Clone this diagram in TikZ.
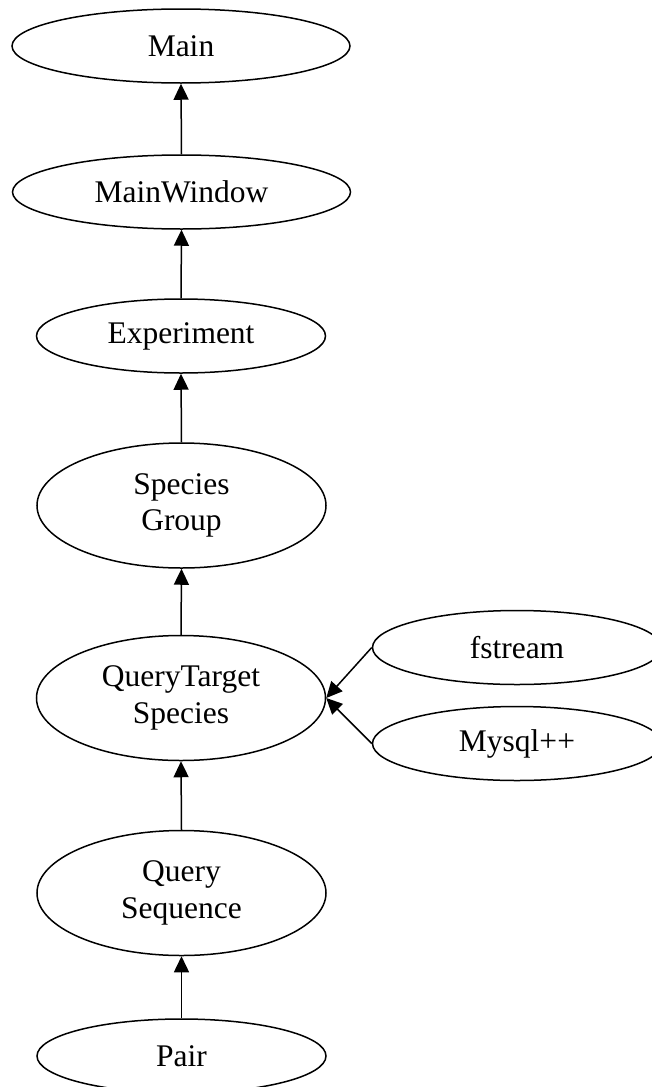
\documentclass[tikz,border=0pt]{standalone}
\usepackage{fontspec}
\setmainfont{Liberation Serif}
\usetikzlibrary{arrows.meta,shapes.geometric}
\begin{document}
\begin{tikzpicture}[x=1pt,y=-1pt,
  cls/.style={draw, ellipse, line width=1.5pt, inner sep=0pt, align=center,
    font=\fontsize{31.5}{36.5}\selectfont},
  wide/.style={cls, minimum width=338pt, minimum height=74pt},
  plain/.style={cls, minimum width=289pt, minimum height=74pt},
  tall/.style={cls, minimum width=289pt, minimum height=125pt},
  dep/.style={line width=1.5pt, -{Triangle[width=15pt,length=16pt]}}]
  \clip (0,0) rectangle (652,1087);
  % class nodes
  \node[wide]  (main) at (181,46)    {Main};
  \node[wide]  (mw)   at (181.5,192) {MainWindow};
  \node[plain] (exp)  at (181,336)   {Experiment};
  \node[tall]  (sg)   at (181.5,505.5) {Species\\Group};
  \node[tall]  (qt)   at (181,698)   {QueryTarget\\Species};
  \node[tall]  (qs)   at (181.5,893) {Query\\Sequence};
  \node[plain] (pair) at (181.5,1056) {Pair};
  \node[plain] (fs)   at (517,647.5) {fstream};
  \node[plain] (my)   at (517,743.5) {Mysql++};
  % dependencies
  \draw[dep] (mw.north)   -- (main.south);
  \draw[dep] (exp.north)  -- (mw.south);
  \draw[dep] (sg.north)   -- (exp.south);
  \draw[dep] (qt.north)   -- (sg.south);
  \draw[dep] (qs.north)   -- (qt.south);
  \draw[dep] (pair.north) -- (qs.south);
  \draw[dep] (fs.west)    -- (qt.east);
  \draw[dep] (my.west)    -- (qt.east);
\end{tikzpicture}
\end{document}
